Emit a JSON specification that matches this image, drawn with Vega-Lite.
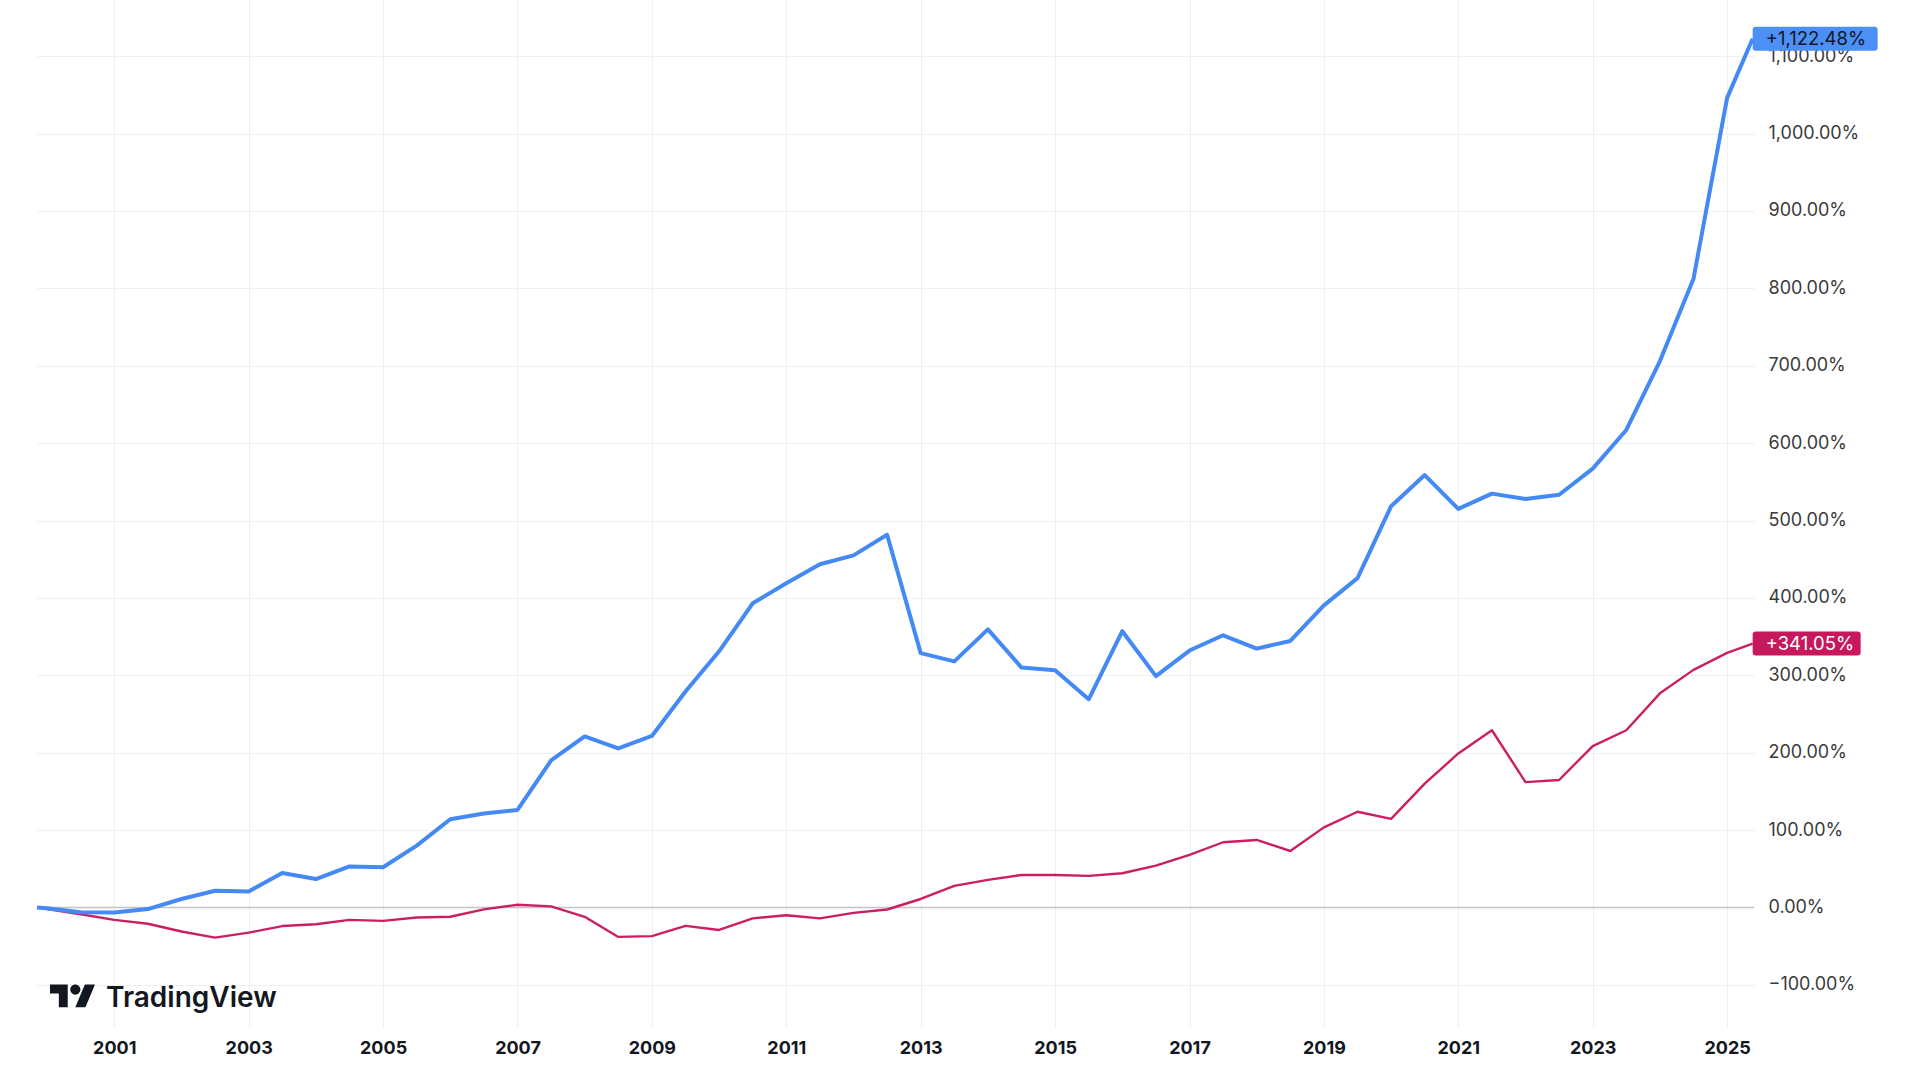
{
  "$schema": "https://vega.github.io/schema/vega-lite/v6.json",
  "width": 1717,
  "height": 1027,
  "autosize": {"type": "none"},
  "padding": {"left": 37, "top": 0, "right": 166, "bottom": 53},
  "background": "white",
  "config": {"view": {"stroke": null}, "font": "Inter"},
  "data": {"values": [
      {"t": 1999.85, "s": "A", "v": 0}, {"t": 2000.0, "s": "A", "v": -1}, {"t": 2000.5, "s": "A", "v": -6}, {"t": 2001.0, "s": "A", "v": -6.5},
      {"t": 2001.5, "s": "A", "v": -2}, {"t": 2002.0, "s": "A", "v": 11}, {"t": 2002.5, "s": "A", "v": 21.6}, {"t": 2003.0, "s": "A", "v": 20.8},
      {"t": 2003.5, "s": "A", "v": 44.6}, {"t": 2004.0, "s": "A", "v": 36.8}, {"t": 2004.5, "s": "A", "v": 53}, {"t": 2005.0, "s": "A", "v": 52},
      {"t": 2005.5, "s": "A", "v": 80}, {"t": 2006.0, "s": "A", "v": 114}, {"t": 2006.5, "s": "A", "v": 121.5}, {"t": 2007.0, "s": "A", "v": 126},
      {"t": 2007.5, "s": "A", "v": 190}, {"t": 2008.0, "s": "A", "v": 221}, {"t": 2008.5, "s": "A", "v": 205.6}, {"t": 2009.0, "s": "A", "v": 221.6},
      {"t": 2009.5, "s": "A", "v": 279}, {"t": 2010.0, "s": "A", "v": 331}, {"t": 2010.5, "s": "A", "v": 393}, {"t": 2011.0, "s": "A", "v": 419},
      {"t": 2011.5, "s": "A", "v": 443.5}, {"t": 2012.0, "s": "A", "v": 455}, {"t": 2012.5, "s": "A", "v": 481.5}, {"t": 2013.0, "s": "A", "v": 328.6},
      {"t": 2013.5, "s": "A", "v": 318}, {"t": 2014.0, "s": "A", "v": 359.4}, {"t": 2014.5, "s": "A", "v": 310}, {"t": 2015.0, "s": "A", "v": 306.5},
      {"t": 2015.5, "s": "A", "v": 269}, {"t": 2016.0, "s": "A", "v": 357}, {"t": 2016.5, "s": "A", "v": 299}, {"t": 2017.0, "s": "A", "v": 332},
      {"t": 2017.5, "s": "A", "v": 351.7}, {"t": 2018.0, "s": "A", "v": 334.5}, {"t": 2018.5, "s": "A", "v": 344.4}, {"t": 2019.0, "s": "A", "v": 390.4},
      {"t": 2019.5, "s": "A", "v": 425.6}, {"t": 2020.0, "s": "A", "v": 518.5}, {"t": 2020.5, "s": "A", "v": 558.7}, {"t": 2021.0, "s": "A", "v": 515},
      {"t": 2021.5, "s": "A", "v": 534.7}, {"t": 2022.0, "s": "A", "v": 527.8}, {"t": 2022.5, "s": "A", "v": 533.3}, {"t": 2023.0, "s": "A", "v": 567},
      {"t": 2023.5, "s": "A", "v": 617}, {"t": 2024.0, "s": "A", "v": 706}, {"t": 2024.5, "s": "A", "v": 812.5}, {"t": 2025.0, "s": "A", "v": 1046},
      {"t": 2025.38, "s": "A", "v": 1122.48},
      {"t": 1999.85, "s": "B", "v": 0}, {"t": 2000.0, "s": "B", "v": -2}, {"t": 2000.5, "s": "B", "v": -8.7}, {"t": 2001.0, "s": "B", "v": -16},
      {"t": 2001.5, "s": "B", "v": -21}, {"t": 2002.0, "s": "B", "v": -31}, {"t": 2002.5, "s": "B", "v": -39}, {"t": 2003.0, "s": "B", "v": -32.5},
      {"t": 2003.5, "s": "B", "v": -24}, {"t": 2004.0, "s": "B", "v": -21.6}, {"t": 2004.5, "s": "B", "v": -16}, {"t": 2005.0, "s": "B", "v": -17.3},
      {"t": 2005.5, "s": "B", "v": -13}, {"t": 2006.0, "s": "B", "v": -12}, {"t": 2006.5, "s": "B", "v": -2.5}, {"t": 2007.0, "s": "B", "v": 3.5},
      {"t": 2007.5, "s": "B", "v": 1.5}, {"t": 2008.0, "s": "B", "v": -12}, {"t": 2008.5, "s": "B", "v": -38}, {"t": 2009.0, "s": "B", "v": -37},
      {"t": 2009.5, "s": "B", "v": -23.7}, {"t": 2010.0, "s": "B", "v": -29}, {"t": 2010.5, "s": "B", "v": -14}, {"t": 2011.0, "s": "B", "v": -10},
      {"t": 2011.5, "s": "B", "v": -14}, {"t": 2012.0, "s": "B", "v": -7}, {"t": 2012.5, "s": "B", "v": -2.6}, {"t": 2013.0, "s": "B", "v": 11},
      {"t": 2013.5, "s": "B", "v": 28}, {"t": 2014.0, "s": "B", "v": 35.7}, {"t": 2014.5, "s": "B", "v": 42}, {"t": 2015.0, "s": "B", "v": 42},
      {"t": 2015.5, "s": "B", "v": 40.8}, {"t": 2016.0, "s": "B", "v": 44.3}, {"t": 2016.5, "s": "B", "v": 54}, {"t": 2017.0, "s": "B", "v": 68},
      {"t": 2017.5, "s": "B", "v": 84.3}, {"t": 2018.0, "s": "B", "v": 87.3}, {"t": 2018.5, "s": "B", "v": 73}, {"t": 2019.0, "s": "B", "v": 103.5},
      {"t": 2019.5, "s": "B", "v": 123.7}, {"t": 2020.0, "s": "B", "v": 114.5}, {"t": 2020.5, "s": "B", "v": 160}, {"t": 2021.0, "s": "B", "v": 199},
      {"t": 2021.5, "s": "B", "v": 229}, {"t": 2022.0, "s": "B", "v": 162}, {"t": 2022.5, "s": "B", "v": 164.7}, {"t": 2023.0, "s": "B", "v": 208.6},
      {"t": 2023.5, "s": "B", "v": 229}, {"t": 2024.0, "s": "B", "v": 276.7}, {"t": 2024.5, "s": "B", "v": 307}, {"t": 2025.0, "s": "B", "v": 329},
      {"t": 2025.38, "s": "B", "v": 341.05}
  ]},
  "layer": [
    {
      "transform": [{"filter": "datum.s === 'A' && datum.t < 1999.9"}],
      "mark": {"type": "rule", "color": "#c4c4c4", "strokeWidth": 1.5},
      "encoding": {"y": {"datum": 0, "type": "quantitative",
        "scale": {"domain": [-154.4, 1172.5], "nice": false, "zero": false},
        "axis": {
          "orient": "right",
          "values": [-100, 0, 100, 200, 300, 400, 500, 600, 700, 800, 900, 1000, 1100],
          "title": null, "grid": true, "gridColor": "#f0f0f0", "gridWidth": 1,
          "ticks": false, "domain": false, "labelFont": "Inter", "labelFontSize": 18,
          "labelColor": "#3a3a3a", "labelPadding": 14, "labelOverlap": false, "labelFlush": false,
          "labelExpr": "replace(format(datum.value, ',.2f'), '-', '\u2212') + '%'"
        }}}
    },
    {
      "transform": [{"filter": "datum.s === 'B'"}],
      "mark": {"type": "line", "color": "#cc1f62", "strokeWidth": 2.4, "strokeJoin": "round"},
      "encoding": {
        "x": {
          "field": "t", "type": "quantitative",
          "scale": {"domain": [1999.85, 2025.4], "nice": false, "zero": false},
          "axis": {
            "values": [2001, 2003, 2005, 2007, 2009, 2011, 2013, 2015, 2017, 2019, 2021, 2023, 2025],
            "format": "d", "title": null, "grid": true, "gridColor": "#efefef", "gridWidth": 1,
            "ticks": false, "domain": false, "labelFont": "Inter", "labelFontSize": 18,
            "labelFontWeight": "bold", "labelColor": "#131722", "labelPadding": 12, "labelFlush": false
          }
        },
        "y": {"field": "v", "type": "quantitative"}
      }
    },
    {
      "transform": [{"filter": "datum.s === 'A'"}],
      "mark": {"type": "line", "color": "#4489f4", "strokeWidth": 4, "strokeJoin": "round"},
      "encoding": {"x": {"field": "t", "type": "quantitative"}, "y": {"field": "v", "type": "quantitative"}}
    },
    {
      "transform": [{"filter": "datum.s === 'A' && datum.t > 2025.3"}],
      "mark": {"type": "point", "filled": true, "opacity": 1, "fill": "#4c8ff6", "strokeWidth": 0, "clip": false,
        "size": 15625,
        "shape": "M0.048,-0.192H1.952Q2,-0.192 2,-0.144V0.144Q2,0.192 1.952,0.192H0.048Q0,0.192 0,0.144V-0.144Q0,-0.192 0.048,-0.192Z"},
      "encoding": {"x": {"field": "t", "type": "quantitative"}, "y": {"field": "v", "type": "quantitative"}}
    },
    {
      "transform": [{"filter": "datum.s === 'B' && datum.t > 2025.3"}],
      "mark": {"type": "point", "filled": true, "opacity": 1, "fill": "#c8185d", "strokeWidth": 0, "clip": false,
        "size": 11664,
        "shape": "M0.056,-0.222H1.944Q2,-0.222 2,-0.166V0.166Q2,0.222 1.944,0.222H0.056Q0,0.222 0,0.166V-0.166Q0,-0.222 0.056,-0.222Z"},
      "encoding": {"x": {"field": "t", "type": "quantitative"}, "y": {"field": "v", "type": "quantitative"}}
    },
    {
      "transform": [
        {"filter": "datum.t > 2025.3"},
        {"calculate": "'+' + format(datum.v, ',.2f') + '%'", "as": "lab"}
      ],
      "mark": {"type": "text", "align": "left", "baseline": "middle", "dx": 13, "font": "Inter", "fontSize": 18.5, "clip": false},
      "encoding": {
        "x": {"field": "t", "type": "quantitative"}, "y": {"field": "v", "type": "quantitative"},
        "text": {"field": "lab"},
        "color": {"field": "s", "type": "nominal", "scale": {"domain": ["A", "B"], "range": ["#131722", "#ffffff"]}, "legend": null}
      }
    },
    {
      "transform": [{"filter": "datum.s === 'A' && datum.t < 1999.9"}],
      "mark": {"type": "point", "filled": true, "opacity": 1, "fill": "#131722", "strokeWidth": 0, "size": 2025,
        "shape": "M-0.211,0.507L-0.606,0.507L-0.606,-0.113L-1,-0.113L-1,-0.507L-0.211,-0.507Z M-0.098,-0.282A0.225,0.225 0 1,0 0.352,-0.282A0.225,0.225 0 1,0 -0.098,-0.282Z M0.577,0.507L0.127,0.507L0.549,-0.507L1,-0.507Z"},
      "encoding": {"x": {"datum": 2000.378, "type": "quantitative"}, "y": {"datum": -114.3, "type": "quantitative"}}
    },
    {
      "transform": [{"filter": "datum.s === 'A' && datum.t < 1999.9"}],
      "mark": {"type": "text", "text": "TradingView", "align": "left", "baseline": "alphabetic", "font": "Inter", "fontSize": 28, "fontWeight": 600, "color": "#131722"},
      "encoding": {"x": {"datum": 2000.877, "type": "quantitative"}, "y": {"datum": -128.2, "type": "quantitative"}}
    }
  ]
}
